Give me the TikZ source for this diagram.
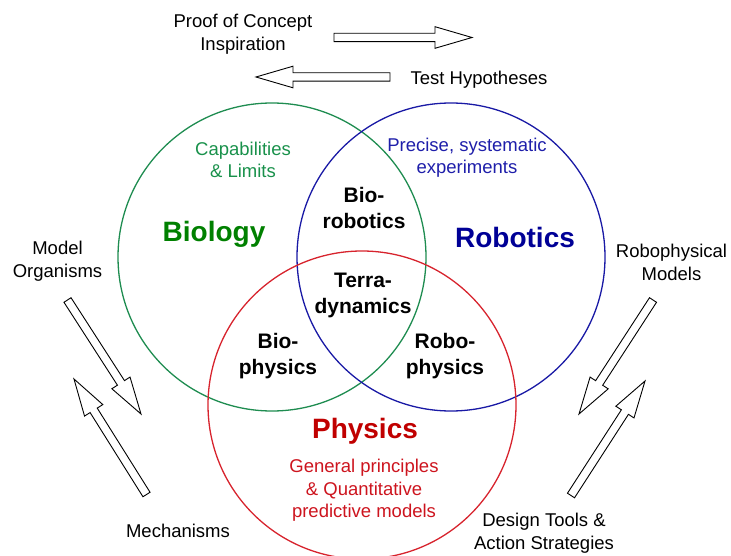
\documentclass[tikz,border=0pt]{standalone}
\usepackage{fontspec}
\setmainfont{Liberation Sans}
\usetikzlibrary{calc}

\definecolor{bioline}{RGB}{30,140,80}
\definecolor{biotext}{RGB}{0,128,0}
\definecolor{biosub}{RGB}{25,145,75}
\definecolor{roboline}{RGB}{25,25,165}
\definecolor{robotext}{RGB}{0,0,150}
\definecolor{robosub}{RGB}{30,30,170}
\definecolor{physline}{RGB}{215,35,45}
\definecolor{phystext}{RGB}{192,0,0}
\definecolor{physsub}{RGB}{205,20,30}

% hollow block arrow from tail #1 to tip #2
\newcommand\arrshaft{4.2pt}
\newcommand\arrwing{10.8pt}
\newcommand\arrhead{37pt}
\newcommand\blockarr[2]{%
  \coordinate (ba-h) at ($(#2)!\arrhead!(#1)$);
  \draw[arrowbox]
    ($(#1)!\arrshaft!90:(#2)$) -- ($(ba-h)!\arrshaft!90:(#2)$) --
    ($(ba-h)!\arrwing!90:(#2)$) -- (#2) --
    ($(ba-h)!\arrwing!-90:(#2)$) -- ($(ba-h)!\arrshaft!-90:(#2)$) --
    ($(#1)!\arrshaft!-90:(#2)$) -- cycle;}

\begin{document}
\begin{tikzpicture}[x=1pt,y=-1pt,
  every node/.style={inner sep=0pt, align=center},
  plain/.style={font=\fontsize{18.5}{23}\selectfont},
  sub/.style={font=\fontsize{18.5}{22.5}\selectfont},
  field/.style={font=\fontsize{28}{32}\selectfont\bfseries},
  overlap/.style={font=\fontsize{21}{25.5}\selectfont\bfseries},
  ring/.style={line width=1.3pt},
  arrowbox/.style={draw=black, line width=0.9pt, fill=white, line join=miter}]

\useasboundingbox (0,0) rectangle (731,556);

% the three fields
\draw[ring, bioline]  (272,257) circle[radius=154];
\draw[ring, roboline] (451,257) circle[radius=154];
\draw[ring, physline] (362,405) circle[radius=154];

% field names and their roles
\node[field, text=biotext]  (bio)  at (214,234) {Biology};
\node[field, text=robotext] (robo) at (515,237) {Robotics};
\node[field, text=phystext] (phys) at (365,431) {Physics};
\node[sub, text=biosub]  (biorole)  at (243,160) {Capabilities\\\& Limits};
\node[sub, text=robosub] (roborole) at (467,157.5) {Precise, systematic\\experiments};
\node[sub, text=physsub] (physrole) at (364,490.5) {General principles\\\& Quantitative\\predictive models};

% overlaps
\node[overlap] (biorob)  at (364,208)   {Bio-\\robotics};
\node[overlap] (terra)   at (363,295.5) {Terra-\\dynamics};
\node[overlap] (biophys) at (278,356)   {Bio-\\physics};
\node[overlap] (robphys) at (445,356)   {Robo-\\physics};

% exchanges between the fields
\node[plain] (poc)   at (243,34.5)  {Proof of Concept\\Inspiration};
\node[plain] (test)  at (479,79.5)  {Test Hypotheses};
\node[plain] (model) at (57.5,261)  {Model\\Organisms};
\node[plain] (mech)  at (178,530.5) {Mechanisms};
\node[plain] (rpm)   at (671.5,262) {Robophysical\\Models};
\node[plain] (dtas)  at (544,533)   {Design Tools \&\\Action Strategies};

% arrow ends
\coordinate (ra-t) at (334,37.5);  \coordinate (ra-h) at (472,37.5);
\coordinate (la-t) at (390,77);    \coordinate (la-h) at (256,77);
\coordinate (ld-t) at (67.5,300);  \coordinate (ld-h) at (141,414);
\coordinate (lu-t) at (146.5,494.5); \coordinate (lu-h) at (74,379);
\coordinate (rd-t) at (653,300);   \coordinate (rd-h) at (579,414);
\coordinate (ru-t) at (571,495.5); \coordinate (ru-h) at (645,381);

\blockarr{ra-t}{ra-h}
\blockarr{la-t}{la-h}
\blockarr{ld-t}{ld-h}
\blockarr{lu-t}{lu-h}
\blockarr{rd-t}{rd-h}
\blockarr{ru-t}{ru-h}

\end{tikzpicture}
\end{document}
